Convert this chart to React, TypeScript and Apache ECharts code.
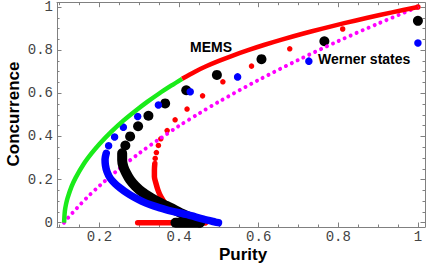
import React, { useEffect, useRef } from "react";
import * as echarts from "echarts";

// ---- tick values ----
const xMajor = [0.2, 0.4, 0.6, 0.8, 1];
const xMinor = [0.1, 0.15, 0.25, 0.3, 0.35, 0.45, 0.5, 0.55, 0.65, 0.7, 0.75, 0.85, 0.9, 0.95];
const yMajor = [0, 0.2, 0.4, 0.6, 0.8, 1];
const yMinor = [0.05, 0.1, 0.15, 0.25, 0.3, 0.35, 0.45, 0.5, 0.55, 0.65, 0.7, 0.75, 0.85, 0.9, 0.95];

// ---- Werner states (magenta dotted) ----
const wernerP = [0.111, 0.12, 0.13, 0.14, 0.15, 0.17, 0.2, 0.25, 0.3, 0.35, 0.4, 0.45, 0.5, 0.6, 0.7, 0.8, 0.9, 1.0];
const wernerC = [0, 0.02, 0.041, 0.061, 0.081, 0.119, 0.171, 0.25, 0.322, 0.387, 0.449, 0.506, 0.561, 0.662, 0.755, 0.842, 0.923, 1.0];

// ---- MEMS (green part, red part) ----
const memsGreenP = [0.1111, 0.113, 0.116, 0.12, 0.13, 0.14, 0.16, 0.18, 0.2, 0.23, 0.26, 0.29, 0.32, 0.35, 0.38, 0.4077];
const memsGreenC = [0, 0.053, 0.086, 0.115, 0.168, 0.208, 0.271, 0.321, 0.365, 0.422, 0.473, 0.518, 0.56, 0.599, 0.635, 0.667];
const memsRedP = [0.4077, 0.44, 0.468, 0.5, 0.535, 0.5733, 0.615, 0.66, 0.708, 0.76, 0.815, 0.8733, 0.935, 1.0];
const memsRedC = [0.667, 0.7, 0.725, 0.75, 0.775, 0.8, 0.825, 0.85, 0.875, 0.9, 0.925, 0.95, 0.975, 1.0];

// ---- red family ----
const redDotP = [1.0, 0.811, 0.678, 0.582, 0.51, 0.459, 0.42, 0.39, 0.37, 0.354, 0.348, 0.343, 0.34];
const redDotC = [1.0, 0.898, 0.806, 0.726, 0.653, 0.588, 0.527, 0.477, 0.427, 0.389, 0.358, 0.325, 0.298];
const redChainP = [0.339, 0.338, 0.338, 0.342, 0.347, 0.354, 0.365, 0.378, 0.395, 0.416, 0.436, 0.453, 0.466];
const redChainC = [0.274, 0.243, 0.213, 0.182, 0.151, 0.121, 0.09, 0.067, 0.05, 0.034, 0.02, 0.009, 0];
const redBaseP = [0.296, 0.466];
const redBaseC = [0, 0];

// ---- black family ----
const blackDotP = [1.0, 0.765, 0.607, 0.495, 0.418, 0.365, 0.323, 0.297, 0.277, 0.265];
const blackDotC = [0.936, 0.841, 0.758, 0.685, 0.614, 0.553, 0.496, 0.447, 0.4, 0.358];
const blackChainP = [0.257, 0.257, 0.26, 0.267, 0.277, 0.29, 0.307, 0.328, 0.348, 0.368, 0.388, 0.408, 0.428, 0.446, 0.453];
const blackChainC = [0.322, 0.29, 0.26, 0.23, 0.198, 0.17, 0.142, 0.117, 0.096, 0.078, 0.06, 0.041, 0.025, 0.009, 0];
const blackBaseP = [0.391, 0.451];
const blackBaseC = [0, 0];

// ---- blue family ----
const blueDotP = [1.0, 0.726, 0.547, 0.428, 0.348, 0.296, 0.26, 0.238, 0.223];
const blueDotC = [0.833, 0.749, 0.676, 0.607, 0.546, 0.492, 0.443, 0.397, 0.357];
const blueChainP = [0.217, 0.214, 0.215, 0.219, 0.227, 0.239, 0.252, 0.269, 0.286, 0.307, 0.328, 0.348, 0.378, 0.421, 0.461, 0.491, 0.499];
const blueChainC = [0.322, 0.294, 0.266, 0.236, 0.206, 0.181, 0.161, 0.138, 0.119, 0.099, 0.083, 0.071, 0.055, 0.037, 0.016, 0.003, 0];

const mk = (xs: number[], ys: number[]) => xs.map((x, i) => [x, ys[i]]);

const AXIS_COLOR = "#808080";
const LABEL_FONT = "Liberation Mono";
const TITLE_FONT = "Liberation Sans";

const X_MIN = 0.0933;
const X_MAX = 1.0178;
const Y_MIN = -0.02;
const Y_MAX = 1.02;

function xAxisDef(position: "top" | "bottom", ticks: number[], len: number, labels: boolean, line: boolean) {
  return {
    type: "value",
    position,
    min: X_MIN,
    max: X_MAX,
    axisLine: { show: line, onZero: false, lineStyle: { color: AXIS_COLOR, width: 1 } },
    axisTick: { show: true, inside: true, length: len, customValues: ticks, lineStyle: { color: AXIS_COLOR, width: 1 } },
    axisLabel: labels
      ? {
          show: true,
          customValues: xMajor,
          margin: 3,
          color: "#444",
          fontFamily: LABEL_FONT,
          fontSize: 14,
          formatter: (v: number) => String(v),
        }
      : { show: false },
    splitLine: { show: false },
  };
}

function yAxisDef(position: "left" | "right", ticks: number[], len: number, labels: boolean, line: boolean) {
  return {
    type: "value",
    position,
    min: Y_MIN,
    max: Y_MAX,
    axisLine: { show: line, onZero: false, lineStyle: { color: AXIS_COLOR, width: 1 } },
    axisTick: { show: true, inside: true, length: len, customValues: ticks, lineStyle: { color: AXIS_COLOR, width: 1 } },
    axisLabel: labels
      ? {
          show: true,
          customValues: yMajor,
          margin: 4,
          color: "#444",
          fontFamily: LABEL_FONT,
          fontSize: 14,
          formatter: (v: number) => String(v),
        }
      : { show: false },
    splitLine: { show: false },
  };
}

function lineSeries(data: number[][], color: string, width: number, extra: any = {}) {
  return {
    type: "line",
    data,
    symbol: "none",
    silent: true,
    smooth: 0.3,
    lineStyle: { color, width, cap: "round", join: "round", ...extra },
    xAxisIndex: 0,
    yAxisIndex: 0,
  };
}

function scatterSeries(data: number[][], color: string, size: number) {
  return {
    type: "scatter",
    data,
    symbol: "circle",
    symbolSize: size,
    silent: true,
    itemStyle: { color, opacity: 1 },
    xAxisIndex: 0,
    yAxisIndex: 0,
  };
}

export default function App() {
  const ref = useRef<HTMLDivElement>(null);

  useEffect(() => {
    if (!ref.current) return;
    const chart = echarts.init(ref.current, undefined, { renderer: "svg" });
    const option: any = {
      animation: false,
      backgroundColor: "#ffffff",
      grid: { left: 57, top: 1, width: 368, height: 226, containLabel: false },
      xAxis: [
        xAxisDef("bottom", xMajor, 4.5, true, true),
        xAxisDef("bottom", xMinor, 2.5, false, false),
        xAxisDef("top", xMajor, 4.5, false, true),
        xAxisDef("top", xMinor, 2.5, false, false),
      ],
      yAxis: [
        yAxisDef("left", yMajor, 4.5, true, true),
        yAxisDef("left", yMinor, 2.5, false, false),
        yAxisDef("right", yMajor, 4.5, false, true),
        yAxisDef("right", yMinor, 2.5, false, false),
      ],
      series: [
        lineSeries(mk(wernerP, wernerC), "#ff00ff", 4, { type: [0.01, 6.5] }),
        { ...lineSeries(mk(memsGreenP, memsGreenC), "#1aeb1a", 4.5), lineStyle: { color: "#1aeb1a", width: 4.5, cap: "butt" } },
        { ...lineSeries(mk(memsRedP, memsRedC), "#ff0000", 4.5), lineStyle: { color: "#ff0000", width: 4.5, cap: "butt" } },
        scatterSeries(mk(redDotP, redDotC), "#ff0000", 5.5),
        lineSeries(mk(redChainP, redChainC), "#ff0000", 5.5),
        lineSeries(mk(redBaseP, redBaseC), "#ff0000", 5.5),
        scatterSeries(mk(blackDotP, blackDotC), "#000000", 10),
        lineSeries(mk(blackChainP, blackChainC), "#000000", 10),
        lineSeries(mk(blackBaseP, blackBaseC), "#000000", 10),
        scatterSeries(mk(blueDotP, blueDotC), "#0000ff", 7.5),
        lineSeries(mk(blueChainP, blueChainC), "#0000ff", 7.5),
      ],
      graphic: [
        {
          type: "text",
          x: 211,
          y: 47,
          style: {
            text: "MEMS",
            fill: "#000",
            font: `bold 14px "${TITLE_FONT}"`,
            align: "center",
            verticalAlign: "middle",
            textAlign: "center",
            textVerticalAlign: "middle",
          },
        },
        {
          type: "text",
          x: 318,
          y: 59,
          style: {
            text: "Werner states",
            fill: "#000",
            font: `bold 14px "${TITLE_FONT}"`,
            align: "left",
            verticalAlign: "middle",
            textAlign: "left",
            textVerticalAlign: "middle",
          },
        },
        {
          type: "text",
          x: 243,
          y: 254,
          style: {
            text: "Purity",
            fill: "#000",
            font: `bold 17px "${TITLE_FONT}"`,
            align: "center",
            verticalAlign: "middle",
            textAlign: "center",
            textVerticalAlign: "middle",
          },
        },
        {
          type: "text",
          x: 13,
          y: 114,
          rotation: Math.PI / 2,
          style: {
            text: "Concurrence",
            fill: "#000",
            font: `bold 17px "${TITLE_FONT}"`,
            align: "center",
            verticalAlign: "middle",
            textAlign: "center",
            textVerticalAlign: "middle",
          },
        },
      ],
    };
    chart.setOption(option);
    return () => chart.dispose();
  }, []);

  return (
    <div
      ref={ref}
      style={{ position: "fixed", left: 0, top: 0, width: 431, height: 266, background: "#fff" }}
    />
  );
}
